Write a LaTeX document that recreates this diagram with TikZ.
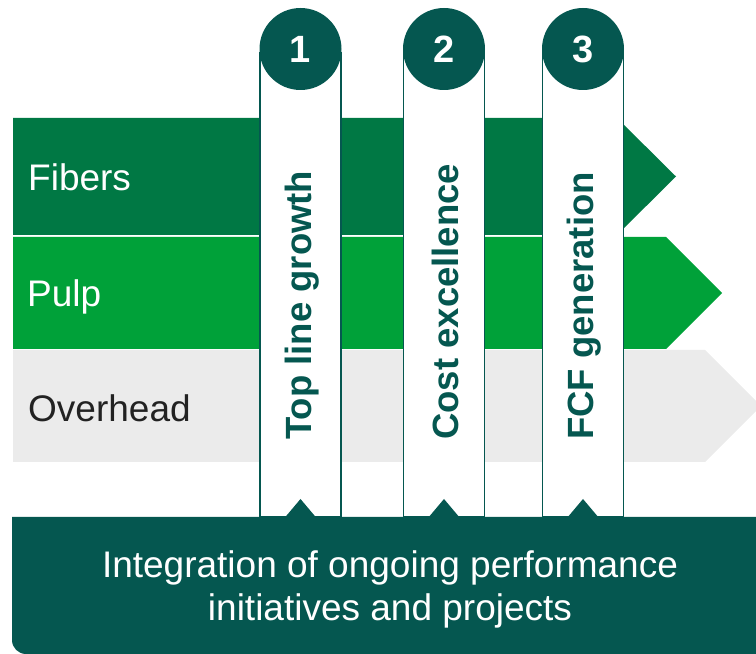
\documentclass[tikz,border=0pt]{standalone}
\usepackage{fontspec}
\setmainfont{Liberation Sans}
\usetikzlibrary{positioning}

\definecolor{darkteal}{RGB}{5,87,80}
\definecolor{fibergreen}{RGB}{0,120,68}
\definecolor{pulpgreen}{RGB}{0,161,57}
\definecolor{overgray}{RGB}{235,235,235}
\definecolor{overtext}{RGB}{34,34,34}

\begin{document}
\begin{tikzpicture}[x=1pt, y=1pt,
    pillar/.style={rectangle, draw=darkteal, line width=1.2pt, fill=white, minimum width=81pt, minimum height=464pt, inner sep=0pt},
    num/.style={circle, fill=darkteal, text=white, minimum size=82pt, inner sep=0pt, font=\fontsize{38}{38}\selectfont\bfseries},
    pillartext/.style={rotate=90, anchor=west, text=darkteal, inner sep=0pt, font=\fontsize{36.5}{40}\selectfont\bfseries},
    bandtext/.style={anchor=base west, inner sep=0pt, font=\fontsize{37}{40}\selectfont}]
    \useasboundingbox (0,0) rectangle (756,654);
    \clip (0,0) rectangle (756,654);

    % bands
    \fill [fibergreen] (13,536) -- (617,536) -- (676,477.5) -- (617,419) -- (13,419) -- cycle;
    \fill [pulpgreen] (13,417) -- (666,417) -- (722,361) -- (666,305) -- (13,305) -- cycle;
    \fill [overgray] (13,304) -- (705,304) -- (761,248) -- (705,192) -- (13,192) -- cycle;
    \node (fibers) [bandtext, text=white] at (28,463) {Fibers};
    \node (pulp) [bandtext, text=white] at (27,347) {Pulp};
    \node (overhead) [bandtext, text=overtext] at (28,232) {Overhead};

    % bottom box
    \fill [darkteal] (770,137) -- (12,137) [rounded corners=14pt] -- (12,0) [sharp corners] -- (770,0) -- cycle;
    \node (integration) [align=center, text=white, inner sep=0pt, font=\fontsize{37}{43}\selectfont] at (390,65) {Integration of ongoing performance\\initiatives and projects};

    % pillars
    \node (p1) [pillar] at (300.5,369) {};
    \node (p2) [pillar] at (444,369) {};
    \node (p3) [pillar] at (583,369) {};
    \fill [darkteal] (284.5,136) -- (300.5,155) -- (316.5,136) -- cycle;
    \fill [darkteal] (428,136) -- (444,155) -- (460,136) -- cycle;
    \fill [darkteal] (567,136) -- (583,155) -- (599,136) -- cycle;
    \node (c1) [num] at (300.5,605) {1};
    \node (c2) [num] at (444,605) {2};
    \node (c3) [num] at (583,605) {3};
    \node (t1) [pillartext] at (302,214) {Top line growth};
    \node (t2) [pillartext] at (445.5,214) {Cost excellence};
    \node (t3) [pillartext] at (584.5,214) {FCF generation};
\end{tikzpicture}
\end{document}
